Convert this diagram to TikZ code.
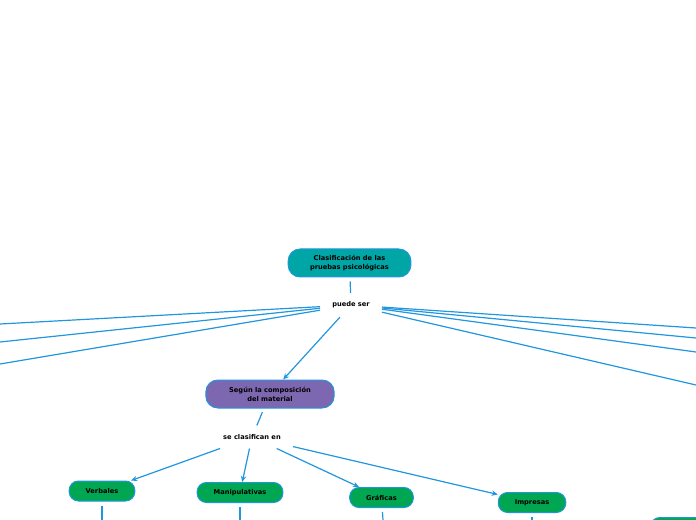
\documentclass[tikz,border=0pt]{standalone}
\usepackage{fontspec}
\setmainfont{DejaVu Sans}
\usetikzlibrary{arrows.meta}
\definecolor{linkblue}{RGB}{33,150,223}
\definecolor{teal}{RGB}{0,166,166}
\definecolor{violet}{RGB}{124,103,176}
\definecolor{leaf}{RGB}{0,166,81}

\begin{document}
\begin{tikzpicture}[x=0.75pt,y=0.75pt,yscale=-1,xscale=1,
  box/.style={draw=linkblue, line width=0.75pt, rounded corners=7pt, fill=leaf, text=black,
    font=\fontsize{5pt}{6.75pt}\selectfont\bfseries, align=center, inner xsep=12.4pt, inner ysep=0pt, minimum height=15pt},
  bigbox/.style={box, rounded corners=9pt, inner xsep=16.5pt, minimum height=21pt},
  tag/.style={font=\fontsize{5pt}{6.75pt}\selectfont\bfseries, text=black, inner xsep=9pt, inner ysep=6.5pt},
  link/.style={draw=linkblue, line width=0.9pt, shorten <=3pt},
  arrow/.style={draw=linkblue, line width=0.9pt, -{Stealth[length=4.5pt,width=4pt]}}]
%set diagram to 696 x 520
\clip (0,0) rectangle (696,520);

% Box Nodes
\node [bigbox, fill=teal] (title) at (349.5,263) {Clasificación de las\\pruebas psicológicas};
\node [bigbox, fill=violet, inner xsep=17.5pt] (compo) at (270,394) {Según la composición\\del material};
\node [box] (verbal) at (102,491) {Verbales};
\node [box] (manip) at (240,492.5) {Manipulativas};
\node [box] (graf) at (381.5,497.5) {Gráficas};
\node [box] (impr) at (532,502.5) {Impresas};
\node [box, anchor=north west, minimum width=80pt] (next) at (650,517) {};

% Text Node
\node [tag] (puede) at (351,305) {puede ser};
% Text Node
\node [tag] (clasif) at (252,437) {se clasifican en};

% Free ends
\coordinate (w1) at (0,324);
\coordinate (w2) at (0,342);
\coordinate (w3) at (0,364);
\coordinate (e1) at (696,328);
\coordinate (e2) at (696,338);
\coordinate (e3) at (696,352);
\coordinate (e4) at (696,385);
\coordinate (dv) at (102,520);
\coordinate (dm) at (240,520);
\coordinate (dg) at (383,520);
\coordinate (di) at (532,520);

%Straight Lines
\draw [link] (title) -- (puede);
\draw [arrow] (puede) -- (compo);
\draw [link] (compo) -- (clasif);
\foreach \e in {w1,w2,w3,e1,e2,e3,e4}
  \draw [link, shorten <=0pt] (puede) -- (\e);

%Arrows
\foreach \c in {verbal,manip,graf,impr}
  \draw [arrow] (clasif) -- (\c);

%Straight Lines
\draw [link] (verbal) -- (dv);
\draw [link] (manip) -- (dm);
\draw [link] (graf) -- (dg);
\draw [link] (impr) -- (di);

\end{tikzpicture}
\end{document}
